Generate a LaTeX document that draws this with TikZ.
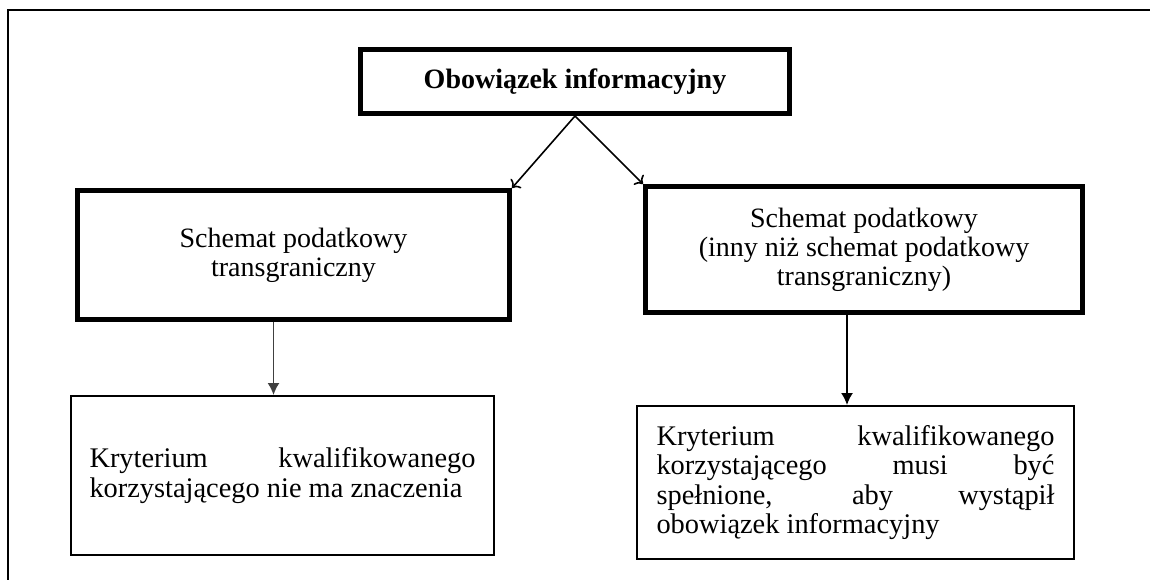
\documentclass[tikz,border=0pt]{standalone}
\usepackage{fontspec}
\setmainfont{Liberation Serif}
\usetikzlibrary{arrows.meta, positioning}
\hyphenpenalty=10000
\tolerance=9999

\begin{document}
\begin{tikzpicture}[x=0.5pt, y=-0.5pt]
    \tikzstyle{frame} = [line width=1pt]
    \tikzstyle{mainbox} = [rectangle, draw, line width=2.5pt, inner sep=0pt, align=center, font=\fontsize{14}{14.5}\selectfont]
    \tikzstyle{textbox} = [rectangle, draw, line width=1pt, inner sep=0pt, align=justify, font=\fontsize{14.2}{14.6}\selectfont]
    \tikzstyle{split} = [->, line width=0.8pt]
    \tikzstyle{down} = [-{Latex[length=6pt,width=6pt]}, line width=0.8pt]

    \useasboundingbox (0,0) rectangle (1150,580);

    % page frame
    \draw[frame] (1150,10) -- (8,10) -- (8,580);

    % top
    \node[mainbox, minimum width=214.5pt, minimum height=32pt, font=\fontsize{14}{14.5}\selectfont\bfseries] (duty) at (575,81.5) {Obowiązek informacyjny};

    % left branch
    \node[mainbox, minimum width=216pt, minimum height=64.5pt] (cross) at (293.5,255) {Schemat podatkowy\\transgraniczny};

    % right branch
    \node[mainbox, minimum width=218.5pt, minimum height=63pt] (other) at (864,249.5) {Schemat podatkowy\\(inny niż schemat podatkowy\\transgraniczny)};

    % criteria
    \node[textbox, text width=193pt, minimum width=211.5pt, minimum height=79.5pt] (critA) at (282.5,475.5) {Kryterium kwalifikowanego korzystającego nie ma znaczenia};
    \node[textbox, text width=199pt, minimum width=218.5pt, minimum height=76.5pt] (critB) at (855.5,482.5) {Kryterium kwalifikowanego korzystającego musi być\linebreak spełnione, aby wystąpił\linebreak obowiązek informacyjny};

    \draw[split] (duty.south) -- (cross.north east);
    \draw[split] (duty.south) -- (other.north west);
    \draw[down, black!75] ([xshift=-10pt]cross.south) -- ([xshift=-10pt]cross.south |- critA.north);
    \draw[down] ([xshift=-8.5pt]other.south) -- ([xshift=-8.5pt]other.south |- critB.north);
\end{tikzpicture}
\end{document}
